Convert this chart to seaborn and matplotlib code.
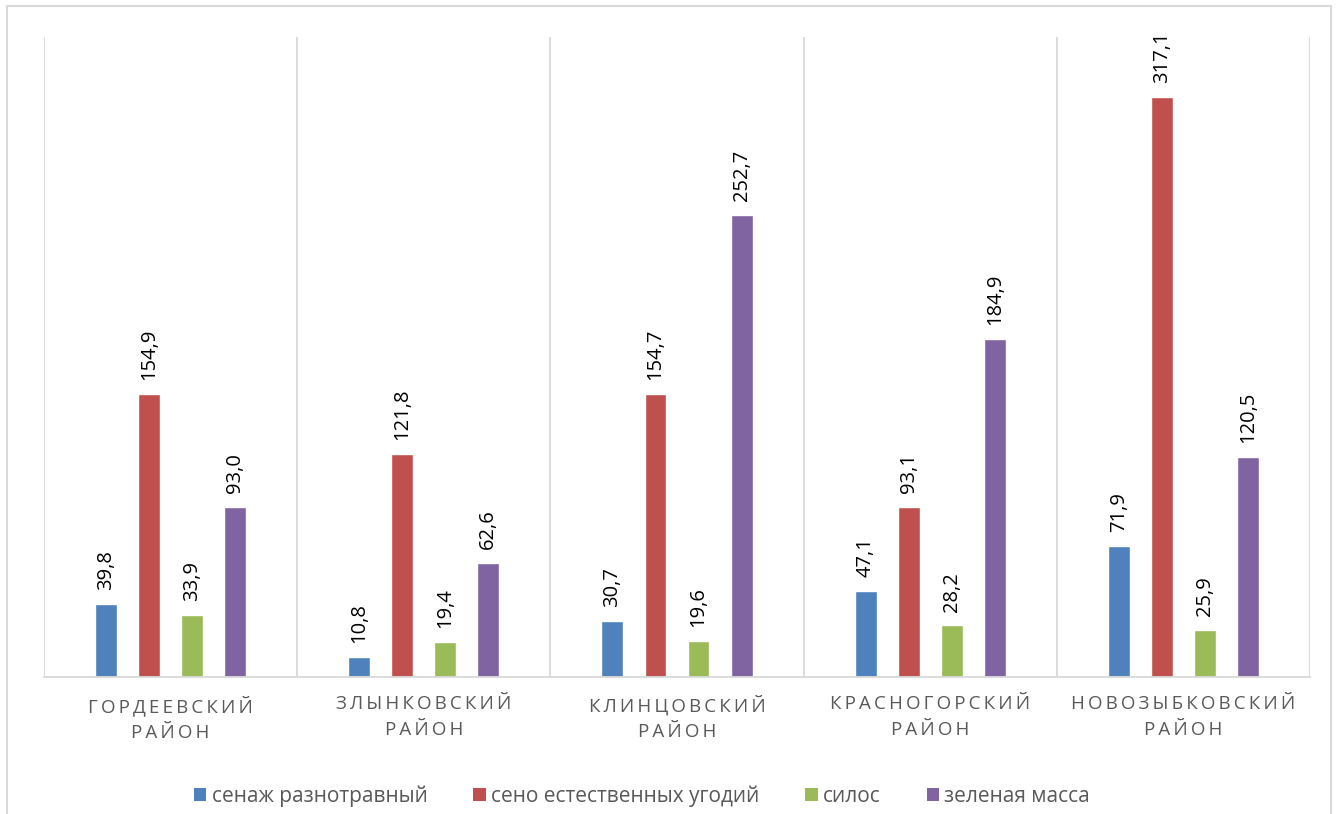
import matplotlib
matplotlib.use("Agg")
import matplotlib.pyplot as plt
from matplotlib.patches import Rectangle, Patch
import seaborn as sns
import pandas as pd

districts = ["ГОРДЕЕВСКИЙ\nРАЙОН", "ЗЛЫНКОВСКИЙ\nРАЙОН", "КЛИНЦОВСКИЙ\nРАЙОН",
             "КРАСНОГОРСКИЙ\nРАЙОН", "НОВОЗЫБКОВСКИЙ\nРАЙОН"]
series = ["сенаж разнотравный", "сено естественных угодий", "силос", "зеленая масса"]
senazh = [39.8, 10.8, 30.7, 47.1, 71.9]
seno = [154.9, 121.8, 154.7, 93.1, 317.1]
silos = [33.9, 19.4, 19.6, 28.2, 25.9]
zelenaya = [93.0, 62.6, 252.7, 184.9, 120.5]
colors = ["#4F81BD", "#C0504D", "#9BBB59", "#8064A2"]

values = [senazh, seno, silos, zelenaya]
df = pd.DataFrame(
    [(d, s, v) for s, vals in zip(series, values) for d, v in zip(districts, vals)],
    columns=["district", "series", "value"],
)

sns.set_theme(style="white")
plt.rcParams["font.family"] = ["Open Sans", "DejaVu Sans"]

fig = plt.figure(figsize=(13.38, 8.14), dpi=100)
ax = fig.add_axes([44 / 1338, 1 - 677 / 814, (1310 - 44) / 1338, (677 - 37) / 814])

sns.barplot(data=df, x="district", y="value", hue="series", palette=colors,
            width=0.68, gap=0.49, ax=ax, legend=False, saturation=1)

ax.set_xlim(-0.5, len(districts) - 0.5)
ax.set_ylim(0, 350)
ax.set_xlabel("")
ax.set_ylabel("")
ax.set_yticks([])

# category boundaries
for b in [i - 0.5 for i in range(len(districts) + 1)]:
    ax.axvline(b, color="#d9d9d9", lw=1.3, zorder=0)

for side in ["top", "left", "right"]:
    ax.spines[side].set_visible(False)
ax.spines["bottom"].set_color("#d9d9d9")
ax.spines["bottom"].set_linewidth(1.3)

# letter-spaced category labels
spaced = ["\n".join("\u2009".join(line) for line in d.split("\n")) for d in districts]
ax.set_xticks(range(len(districts)))
ax.set_xticklabels(spaced, fontsize=13.5, color="#595959", linespacing=1.55,
                   family=["Open Sans", "DejaVu Sans"])
ax.tick_params(axis="x", length=0, pad=13)

for cont, vals in zip(ax.containers, values):
    ax.bar_label(cont, labels=[f"{v:.1f}".replace(".", ",") for v in vals],
                 rotation=90, padding=10, fontsize=14.5, color="#000000")

handles = [Patch(facecolor=c, edgecolor="none") for c in colors]
fig.legend(handles, series, loc="center", bbox_to_anchor=(642 / 1338, 1 - 796 / 814),
           ncol=4, frameon=False, fontsize=15, handlelength=0.6, handleheight=0.6,
           handletextpad=0.25, columnspacing=2.2, labelcolor="#595959")

fig.patches.append(Rectangle((7 / 1338, -0.05), (1331 - 7) / 1338, 1.05 - 6 / 814,
                             transform=fig.transFigure, fill=False,
                             edgecolor="#d9d9d9", lw=1.5))

fig.savefig("out.png", dpi=100)
